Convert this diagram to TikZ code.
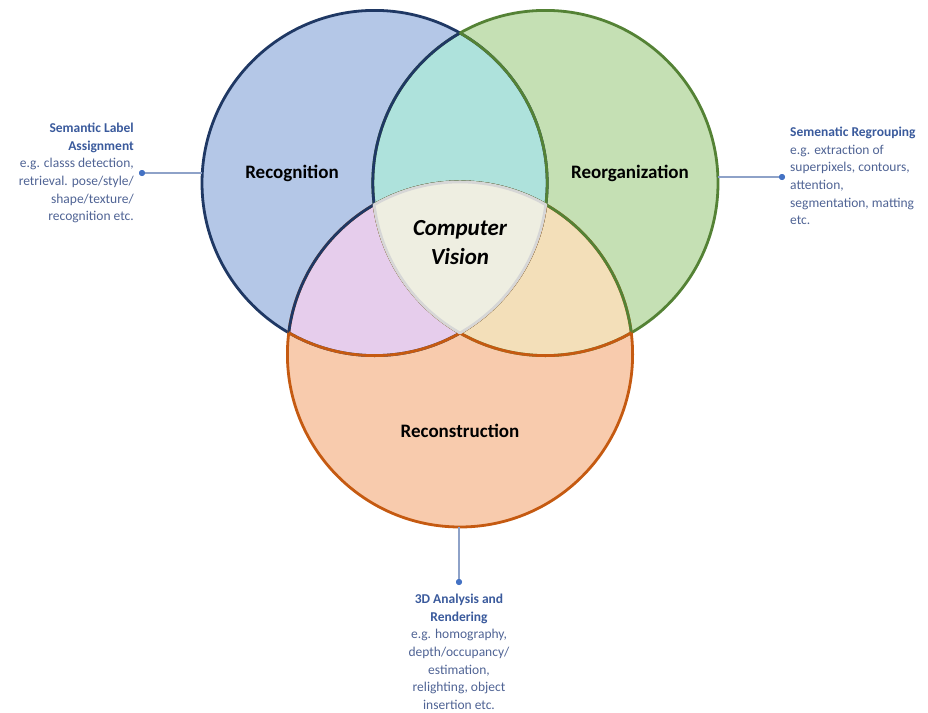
\documentclass[tikz,border=0pt]{standalone}
\usepackage{fontspec}
\setmainfont{Carlito}
\definecolor{bFill}{HTML}{B4C7E7}
\definecolor{bLine}{HTML}{1F3864}
\definecolor{gFill}{HTML}{C5E0B4}
\definecolor{gLine}{HTML}{548235}
\definecolor{oFill}{HTML}{F8CBAD}
\definecolor{oLine}{HTML}{C55A11}
\definecolor{bgFill}{HTML}{AEE2DC}
\definecolor{boFill}{HTML}{E6CDEC}
\definecolor{goFill}{HTML}{F3DFB9}
\definecolor{midFill}{HTML}{EEEEE1}
\definecolor{midLine}{HTML}{D6D6D6}
\definecolor{noteHead}{HTML}{3A5A9C}
\definecolor{noteBody}{HTML}{4F6394}
\definecolor{connCol}{HTML}{8EA2C8}
\definecolor{dotCol}{HTML}{4472C4}
\begin{document}
\begin{tikzpicture}[x=1pt,y=-1pt,
  ring/.style={line width=2.8pt},
  anchorcircle/.style={circle,minimum size=345.2pt,inner sep=0pt},
  setlabel/.style={font=\fontsize{19}{23}\selectfont\bfseries,text=black},
  corelabel/.style={font=\fontsize{23}{29}\selectfont\bfseries\itshape,text=black,align=center},
  note/.style={font=\fontsize{13.5}{17.6}\selectfont,text=noteBody,inner sep=0pt},
  conn/.style={draw=connCol,line width=1.5pt},
  tipdot/.style={circle,fill=dotCol,inner sep=0pt,minimum size=6pt}]
\useasboundingbox (0,0) rectangle (928,712);
\def\R{172.6pt}
\coordinate (cB) at (374.6,183);
\coordinate (cG) at (545.4,183);
\coordinate (cO) at (460,354.4);
\node[anchorcircle] (rec) at (cB) {};
\node[anchorcircle] (reo) at (cG) {};
\node[anchorcircle] (recon) at (cO) {};
% corners of the common core
\coordinate (kL) at (374.2,204.7);
\coordinate (kR) at (545.8,204.7);
\coordinate (kB) at (460,333);
% base fills
\fill[bFill] (cB) circle[radius=\R];
\fill[gFill] (cG) circle[radius=\R];
\fill[oFill] (cO) circle[radius=\R];
% pairwise overlaps
\begin{scope}
  \clip (cB) circle[radius=\R];
  \fill[bgFill] (cG) circle[radius=\R];
  \fill[boFill] (cO) circle[radius=\R];
\end{scope}
\begin{scope}
  \clip (cG) circle[radius=\R];
  \fill[goFill] (cO) circle[radius=\R];
\end{scope}
% outlines: each arc takes the colour of the set it lies in
\draw[ring,bLine] (cB) circle[radius=\R];
\draw[ring,gLine] (cG) circle[radius=\R];
\draw[ring,oLine] (cO) circle[radius=\R];
\begin{scope}
  \clip (cB) circle[radius=\R];
  \draw[ring,bLine] (cG) circle[radius=\R];
  \draw[ring,bLine] (cO) circle[radius=\R];
\end{scope}
\begin{scope}
  \clip (cG) circle[radius=\R];
  \draw[ring,gLine] (cB) circle[radius=\R];
  \draw[ring,gLine] (cO) circle[radius=\R];
\end{scope}
\begin{scope}
  \clip (cO) circle[radius=\R];
  \draw[ring,oLine] (cB) circle[radius=\R];
  \draw[ring,oLine] (cG) circle[radius=\R];
\end{scope}
% common core, bounded by three arcs
\filldraw[fill=midFill,draw=midLine,ring,line join=round]
  (kL) arc[start angle=119.8,end angle=60.2,radius=\R]
       arc[start angle=-7.22,end angle=-60.34,radius=\R]
       arc[start angle=-119.66,end angle=-172.78,radius=\R] -- cycle;
% set labels
\node[setlabel] (tRec) at (292,173) {Recognition};
\node[setlabel] (tReo) at (630,173) {Reorganization};
\node[setlabel] (tRecon) at (460,431) {Reconstruction};
\node[corelabel] (tCV) at (460,243) {Computer\\Vision};
% callouts
\node[tipdot] (dL) at (142,173) {};
\node[tipdot] (dR) at (782,177) {};
\node[tipdot] (dB) at (459,582) {};
\draw[conn] (dL) -- (dL -| rec.west);
\draw[conn] (dR) -- (dR -| reo.east);
\draw[conn] (dB) -- (dB |- recon.south);
\node[tipdot] at (dL) {};
\node[tipdot] at (dR) {};
\node[tipdot] at (dB) {};
\node[note,align=right,anchor=north east] (nL) at (134,123)
  {\textcolor{noteHead}{\bfseries Semantic Label}\\
   \textcolor{noteHead}{\bfseries Assignment}\\
   e.g. classs detection,\\
   retrieval. pose/style/\\
   shape/texture/\\
   recognition etc.};
\node[note,align=left,anchor=north west] (nR) at (790,127)
  {\textcolor{noteHead}{\bfseries Semenatic Regrouping}\\
   e.g. extraction of\\
   superpixels, contours,\\
   attention,\\
   segmentation, matting\\
   etc.};
\node[note,align=center,anchor=north] (nB) at (459,594)
  {\textcolor{noteHead}{\bfseries 3D Analysis and}\\
   \textcolor{noteHead}{\bfseries Rendering}\\
   e.g. homography,\\
   depth/occupancy/\\
   estimation,\\
   relighting, object\\
   insertion etc.};
\end{tikzpicture}
\end{document}
